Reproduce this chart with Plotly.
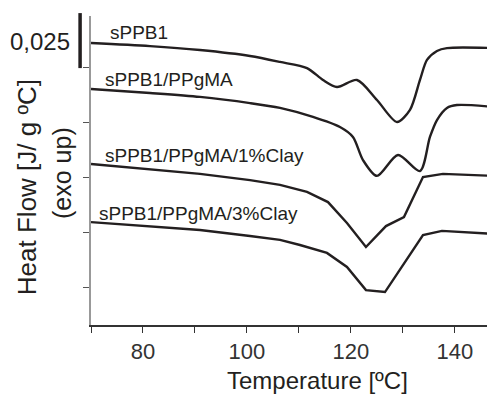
import plotly.graph_objects as go

# ---- data (temperature in ºC, heat flow in J/g ºC, curves offset vertically) ----
t_sppb1 = [70.0, 81.35, 90.96, 100.58, 106.35, 111.54, 114.62, 117.31, 121.15, 125.0, 128.85, 131.35, 133.27, 134.62, 136.54, 138.46, 147.7]
hf_sppb1 = [0.1109, 0.1095, 0.1077, 0.1050, 0.1023, 0.0995, 0.0941, 0.0909, 0.0941, 0.0850, 0.0750, 0.0805, 0.0941, 0.1032, 0.1073, 0.1086, 0.1086]

t_ppgma = [70.0, 81.35, 90.96, 100.58, 106.35, 112.69, 117.88, 120.38, 122.31, 125.0, 129.04, 133.27, 135.19, 136.54, 138.46, 140.38, 147.7]
hf_ppgma = [0.0900, 0.0882, 0.0864, 0.0836, 0.0814, 0.0773, 0.0727, 0.0682, 0.0577, 0.0505, 0.0600, 0.0527, 0.0682, 0.0759, 0.0814, 0.0827, 0.0818]

t_clay1 = [70.0, 81.35, 90.96, 100.58, 106.35, 111.54, 115.58, 119.23, 122.88, 126.73, 130.19, 133.85, 137.69, 147.7]
hf_clay1 = [0.0559, 0.0536, 0.0514, 0.0486, 0.0464, 0.0432, 0.0386, 0.0291, 0.0182, 0.0277, 0.0318, 0.0500, 0.0514, 0.0505]

t_clay3 = [70.0, 81.35, 90.96, 100.58, 106.35, 110.19, 115.38, 119.23, 122.88, 126.54, 133.85, 137.5, 147.7]
hf_clay3 = [0.0295, 0.0277, 0.0259, 0.0232, 0.0214, 0.0191, 0.0155, 0.0091, -0.0014, -0.0023, 0.0236, 0.0255, 0.0241]

labels = ["sPPB1", "sPPB1/PPgMA", "sPPB1/PPgMA/1%Clay", "sPPB1/PPgMA/3%Clay"]
label_x = [73.27, 72.3, 72.3, 71.15]
label_y = [0.1155, 0.0941, 0.0600, 0.0336]

x_range = [70, 147.7]
y_range = [-0.01727, 0.12318]
x_ticks = [80, 100, 120, 140]
x_minor = [70, 90, 110, 130]
y_ticks = [0, 0.025, 0.05, 0.075, 0.1]
scale_bar = [0.0995, 0.1245]   # 0.025 J/g ºC
scale_label = "0,025"

ink = "#231f20"
font = "Liberation Sans, Arial, sans-serif"

fig = go.Figure()
series = [(t_sppb1, hf_sppb1, "spline"), (t_ppgma, hf_ppgma, "spline"),
          (t_clay1, hf_clay1, "linear"), (t_clay3, hf_clay3, "linear")]
for (tx, hy, shp), name in zip(series, labels):
    fig.add_trace(go.Scatter(x=tx, y=hy, mode="lines", name=name,
                             line=dict(color=ink, width=2.4, shape=shp, smoothing=0.8),
                             showlegend=False, cliponaxis=False))

for name, lx, ly in zip(labels, label_x, label_y):
    fig.add_annotation(x=lx, y=ly, text=name, showarrow=False, xanchor="left", yanchor="middle",
                       font=dict(family=font, size=19, color=ink))

def ypaper(v):
    return (v - y_range[0]) / (y_range[1] - y_range[0])

fig.add_shape(type="line", xref="paper", yref="paper", x0=-0.027, x1=-0.027,
              y0=ypaper(scale_bar[0]), y1=ypaper(scale_bar[1]),
              line=dict(color=ink, width=3.5))
fig.add_annotation(xref="paper", yref="paper", x=-0.047, y=ypaper((scale_bar[0] + scale_bar[1]) / 2 - 0.0005),
                   text=scale_label, showarrow=False, xanchor="right", yanchor="middle",
                   font=dict(family=font, size=24, color=ink))

fig.add_annotation(xref="paper", yref="paper", x=-0.158, y=0.4466, text="Heat Flow [J/ g ºC]",
                   textangle=-90, showarrow=False, xanchor="center", yanchor="middle",
                   font=dict(family=font, size=26, color=ink))
fig.add_annotation(xref="paper", yref="paper", x=-0.0718, y=0.492, text="(exo up)",
                   textangle=-90, showarrow=False, xanchor="center", yanchor="middle",
                   font=dict(family=font, size=25, color=ink))
fig.add_annotation(xref="paper", yref="paper", x=0.560, y=-0.178, text="Temperature [ºC]",
                   showarrow=False, xanchor="center", yanchor="middle", borderpad=0,
                   font=dict(family=font, size=24, color=ink))

# page has an 8px body margin, so margins are offset to place the plot area as in the reference
fig.update_layout(
    width=495, height=394,
    margin=dict(l=83, r=8, t=8, b=77),
    paper_bgcolor="white", plot_bgcolor="white",
    font=dict(family=font, size=22, color=ink),
    xaxis=dict(range=x_range, tickvals=x_ticks, ticks="outside", ticklen=6, tickwidth=1.2,
               tickcolor="#333333", showline=True, linecolor="#333333", linewidth=1.5,
               showgrid=False, zeroline=False, tickfont=dict(size=22, color="#333333"),
               minor=dict(tickvals=x_minor, ticks="outside", ticklen=6,
                          tickcolor="#333333", tickwidth=1.2)),
    yaxis=dict(range=y_range, tickvals=y_ticks, ticks="outside", ticklen=6, tickwidth=1.2,
               tickcolor="#555555", showticklabels=False, showline=True, linecolor="#999999",
               linewidth=1.5, showgrid=False, zeroline=False),
)

fig.write_html("out.html")
